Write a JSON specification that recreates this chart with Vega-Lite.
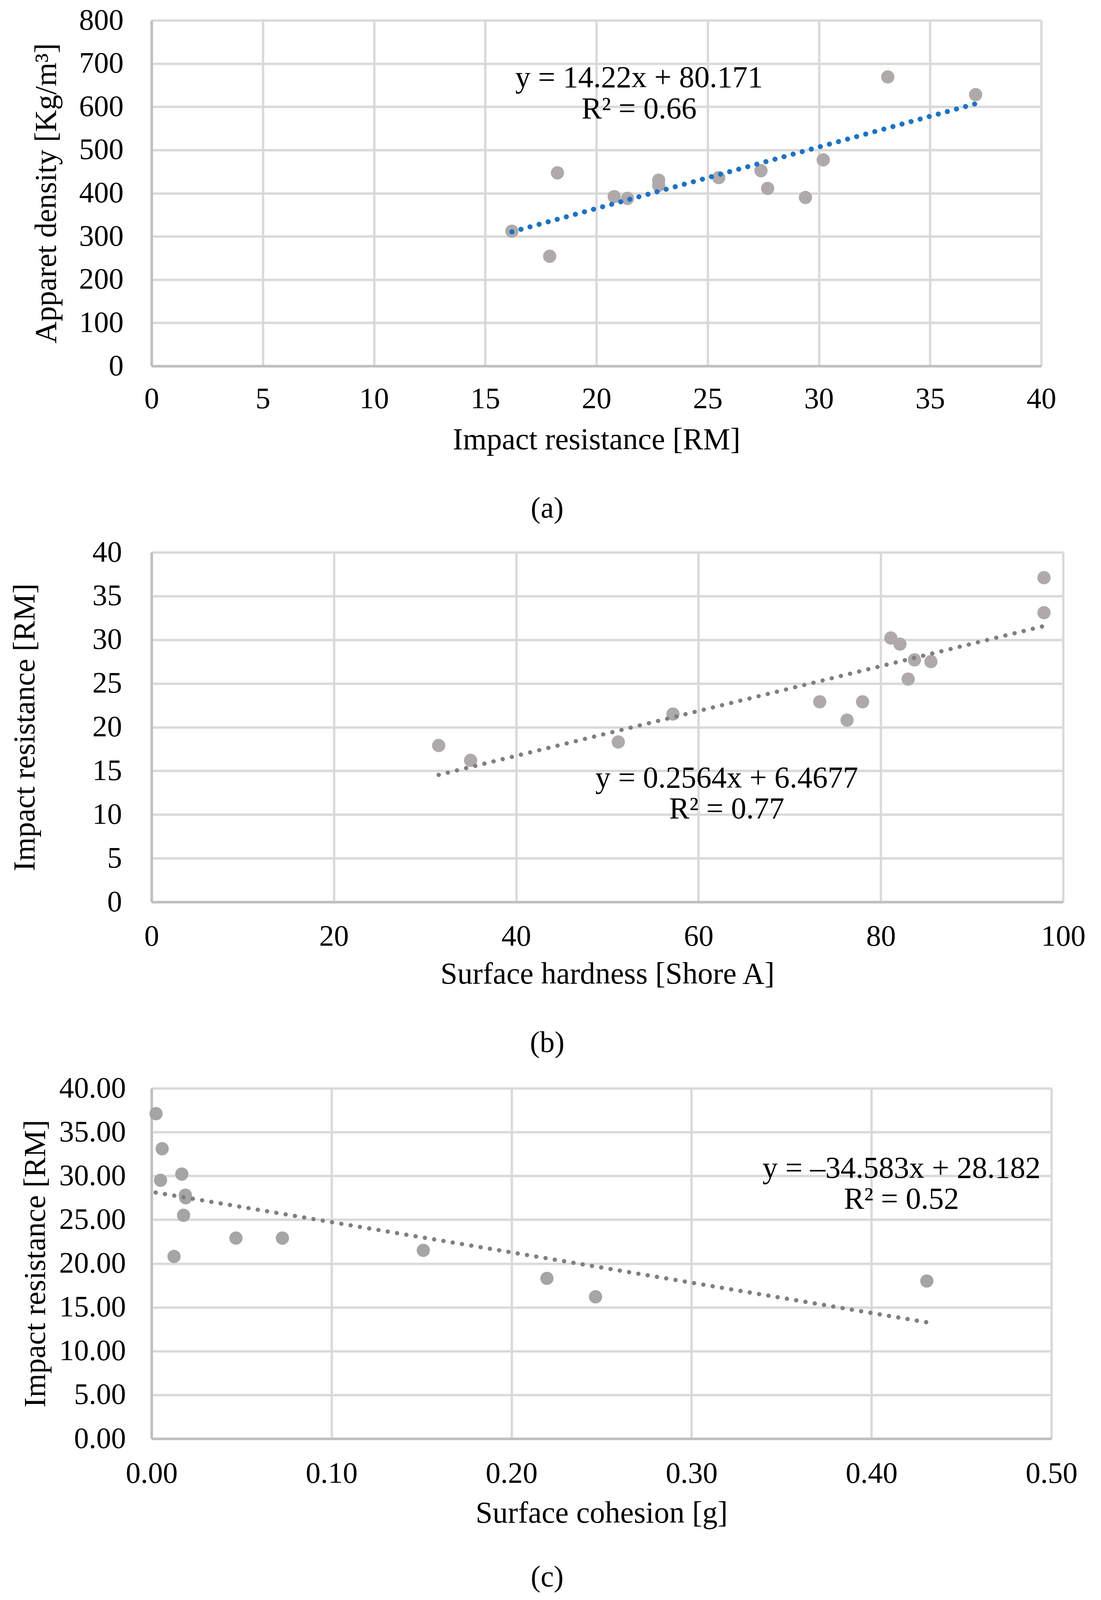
{
  "$schema": "https://vega.github.io/schema/vega-lite/v6.json",
  "background": "white",
  "padding": {"top": 14, "left": 25, "right": 5, "bottom": 5},
  "bounds": "flush",
  "spacing": 477,
  "config": {
    "font": "Liberation Serif",
    "view": {"stroke": null},
    "axis": {
      "labelFont": "Liberation Serif",
      "labelFontSize": 76,
      "labelColor": "black",
      "labelFlush": false,
      "labelOverlap": false,
      "labelLimit": 0,
      "titleFont": "Liberation Serif",
      "titleFontSize": 78,
      "titleFontWeight": "normal",
      "titleColor": "black",
      "titleLimit": 0,
      "gridColor": "#d9d9d9",
      "gridWidth": 6,
      "domainColor": "#bfbfbf",
      "domainWidth": 6.5,
      "ticks": false,
      "tickSize": 0
    },
    "title": {"font": "Liberation Serif", "fontSize": 76, "fontWeight": "normal", "color": "black"}
  },
  "vconcat": [
    {
      "width": 2278,
      "height": 885,
      "title": {"text": "(a)", "orient": "bottom", "anchor": "middle", "offset": 100, "dx": -126},
      "layer": [
        {
          "data": {"values": [
            {"ir": 16.2, "d": 312}, {"ir": 17.9, "d": 254}, {"ir": 18.25, "d": 447},
            {"ir": 20.8, "d": 392}, {"ir": 21.4, "d": 388}, {"ir": 22.8, "d": 430},
            {"ir": 22.8, "d": 418}, {"ir": 25.5, "d": 436}, {"ir": 27.4, "d": 452},
            {"ir": 27.7, "d": 411}, {"ir": 29.4, "d": 390}, {"ir": 30.2, "d": 477},
            {"ir": 33.1, "d": 669}, {"ir": 37.05, "d": 628}
          ]},
          "mark": {"type": "circle", "size": 1150, "color": "#aeaaaa", "opacity": 1},
          "encoding": {
            "x": {"field": "ir", "type": "quantitative",
              "scale": {"domain": [0, 40], "nice": false},
              "axis": {"title": "Impact resistance [RM]", "values": [0, 5, 10, 15, 20, 25, 30, 35, 40], "format": "d",
                "labelPadding": 47, "titlePadding": 28}},
            "y": {"field": "d", "type": "quantitative",
              "scale": {"domain": [0, 800], "nice": false},
              "axis": {"title": "Apparet density [Kg/m³]", "values": [0, 100, 200, 300, 400, 500, 600, 700, 800], "format": "d",
                "labelPadding": 72, "titlePadding": 44}}
          }
        },
        {
          "data": {"values": [{"ir": 16.2, "d": 310.5}, {"ir": 37.1, "d": 607.7}]},
          "mark": {"type": "line", "color": "#1a73c8", "strokeWidth": 13, "strokeCap": "round", "strokeDash": [0.1, 24]},
          "encoding": {
            "x": {"field": "ir", "type": "quantitative"},
            "y": {"field": "d", "type": "quantitative"}
          }
        },
        {
          "data": {"values": [
            {"ir": 21.92, "d": 666, "label": "y = 14.22x + 80.171"},
            {"ir": 21.92, "d": 594, "label": "R² = 0.66"}
          ]},
          "mark": {"type": "text", "font": "Liberation Serif", "fontSize": 78, "color": "black", "align": "center", "baseline": "middle"},
          "encoding": {
            "x": {"field": "ir", "type": "quantitative"},
            "y": {"field": "d", "type": "quantitative"},
            "text": {"field": "label"}
          }
        }
      ]
    },
    {
      "width": 2334,
      "height": 895,
      "title": {"text": "(b)", "orient": "bottom", "anchor": "middle", "offset": 100, "dx": -154},
      "layer": [
        {
          "data": {"values": [
            {"sh": 31.5, "ir": 17.9}, {"sh": 35.0, "ir": 16.2}, {"sh": 51.2, "ir": 18.3},
            {"sh": 57.2, "ir": 21.5}, {"sh": 73.3, "ir": 22.9}, {"sh": 76.3, "ir": 20.8},
            {"sh": 78.0, "ir": 22.9}, {"sh": 81.1, "ir": 30.2}, {"sh": 82.1, "ir": 29.5},
            {"sh": 83.0, "ir": 25.5}, {"sh": 83.7, "ir": 27.7}, {"sh": 85.5, "ir": 27.5},
            {"sh": 97.9, "ir": 33.1}, {"sh": 97.9, "ir": 37.1}
          ]},
          "mark": {"type": "circle", "size": 1150, "color": "#aeaaaa", "opacity": 1},
          "encoding": {
            "x": {"field": "sh", "type": "quantitative",
              "scale": {"domain": [0, 100], "nice": false},
              "axis": {"title": "Surface hardness [Shore A]", "values": [0, 20, 40, 60, 80, 100], "format": "d",
                "labelPadding": 51, "titlePadding": 20}},
            "y": {"field": "ir", "type": "quantitative",
              "scale": {"domain": [0, 40], "nice": false},
              "axis": {"title": "Impact resistance [RM]", "values": [0, 5, 10, 15, 20, 25, 30, 35, 40], "format": "d",
                "labelPadding": 76, "titlePadding": 133}}
          }
        },
        {
          "data": {"values": [{"sh": 31.5, "ir": 14.54}, {"sh": 97.9, "ir": 31.57}]},
          "mark": {"type": "line", "color": "#7f7f7f", "strokeWidth": 11, "strokeCap": "round", "strokeDash": [0.1, 24]},
          "encoding": {
            "x": {"field": "sh", "type": "quantitative"},
            "y": {"field": "ir", "type": "quantitative"}
          }
        },
        {
          "data": {"values": [
            {"sh": 63.1, "ir": 14.13, "label": "y = 0.2564x + 6.4677"},
            {"sh": 63.1, "ir": 10.58, "label": "R² = 0.77"}
          ]},
          "mark": {"type": "text", "font": "Liberation Serif", "fontSize": 78, "color": "black", "align": "center", "baseline": "middle"},
          "encoding": {
            "x": {"field": "sh", "type": "quantitative"},
            "y": {"field": "ir", "type": "quantitative"},
            "text": {"field": "label"}
          }
        }
      ]
    },
    {
      "width": 2304,
      "height": 897,
      "title": {"text": "(c)", "orient": "bottom", "anchor": "middle", "offset": 88, "dx": -139},
      "layer": [
        {
          "data": {"values": [
            {"sc": 0.0025, "ir": 37.1}, {"sc": 0.0059, "ir": 33.1}, {"sc": 0.005, "ir": 29.5},
            {"sc": 0.0168, "ir": 30.2}, {"sc": 0.0188, "ir": 27.8}, {"sc": 0.019, "ir": 27.5},
            {"sc": 0.0178, "ir": 25.5}, {"sc": 0.0125, "ir": 20.8}, {"sc": 0.0469, "ir": 22.9},
            {"sc": 0.0727, "ir": 22.9}, {"sc": 0.151, "ir": 21.5}, {"sc": 0.2197, "ir": 18.3},
            {"sc": 0.2467, "ir": 16.2}, {"sc": 0.4308, "ir": 18.0}
          ]},
          "mark": {"type": "circle", "size": 1150, "color": "#a5a5a5", "opacity": 1},
          "encoding": {
            "x": {"field": "sc", "type": "quantitative",
              "scale": {"domain": [0, 0.5], "nice": false},
              "axis": {"title": "Surface cohesion [g]", "values": [0, 0.1, 0.2, 0.3, 0.4, 0.5], "format": ".2f",
                "labelPadding": 52, "titlePadding": 25}},
            "y": {"field": "ir", "type": "quantitative",
              "scale": {"domain": [0, 40], "nice": false},
              "axis": {"title": "Impact resistance [RM]", "values": [0, 5, 10, 15, 20, 25, 30, 35, 40], "format": ".2f",
                "labelPadding": 66, "titlePadding": 58}}
          }
        },
        {
          "data": {"values": [{"sc": 0.0023, "ir": 28.1}, {"sc": 0.431, "ir": 13.28}]},
          "mark": {"type": "line", "color": "#7f7f7f", "strokeWidth": 11, "strokeCap": "round", "strokeDash": [0.1, 24]},
          "encoding": {
            "x": {"field": "sc", "type": "quantitative"},
            "y": {"field": "ir", "type": "quantitative"}
          }
        },
        {
          "data": {"values": [
            {"sc": 0.4167, "ir": 30.8, "label": "y = –34.583x + 28.182"},
            {"sc": 0.4167, "ir": 27.3, "label": "R² = 0.52"}
          ]},
          "mark": {"type": "text", "font": "Liberation Serif", "fontSize": 78, "color": "black", "align": "center", "baseline": "middle"},
          "encoding": {
            "x": {"field": "sc", "type": "quantitative"},
            "y": {"field": "ir", "type": "quantitative"},
            "text": {"field": "label"}
          }
        }
      ]
    }
  ]
}
